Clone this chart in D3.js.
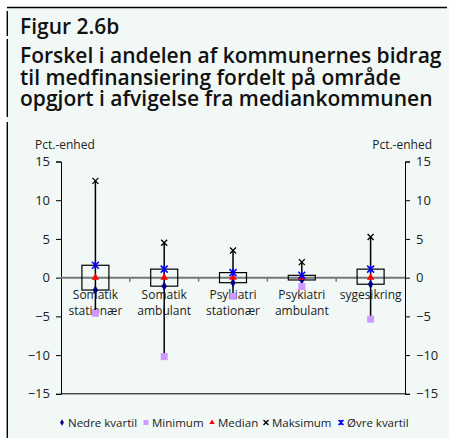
<!DOCTYPE html>
<html>
<head>
<meta charset="utf-8">
<script src="https://cdn.jsdelivr.net/npm/d3@7"></script>
<style>
  body { margin: 0; background: #fff; }
  text { font-family: "Open Sans", "Noto Sans", sans-serif; }
</style>
</head>
<body>
<svg id="chart" width="449" height="438"></svg>
<script>
// data
const categories = [["Somatik", "stationær"], ["Somatik", "ambulant"], ["Psykiatri", "stationær"], ["Psykiatri", "ambulant"], ["sygesikring"]];
const nedreKvartil = [-1.6, -1.1, -0.65, -0.3, -0.85];
const minimum = [-4.6, -10.2, -2.4, -1.15, -5.35];
const median = [0, 0, 0, 0, 0];
const maksimum = [12.5, 4.5, 3.5, 2.0, 5.25];
const oevreKvartil = [1.6, 1.1, 0.65, 0.3, 1.1];
const yTicks = [-15, -10, -5, 0, 5, 10, 15];
const titleLines = ["Forskel i andelen af kommunernes bidrag", "til medfinansiering fordelt på område", "opgjort i afvigelse fra mediankommunen"];
const legendNames = ["Nedre kvartil", "Minimum", "Median", "Maksimum", "Øvre kvartil"];

const svg = d3.select("#chart");

// frame
svg.append("rect").attr("x", 7).attr("y", 7).attr("width", 442).attr("height", 431).attr("fill", "#f1f8f6");
svg.append("line").attr("x1", 7).attr("x2", 447).attr("y1", 7.5).attr("y2", 7.5).attr("stroke", "#000").attr("stroke-width", 1.4);
[[11, 36], [39, 117], [122, 438]].forEach(s => {
  svg.append("line").attr("x1", 7.3).attr("x2", 7.3).attr("y1", s[0]).attr("y2", s[1]).attr("stroke", "#000").attr("stroke-width", 1.4);
});

svg.append("text").attr("x", 20).attr("y", 34).text("Figur 2.6b")
  .attr("font-size", 21).attr("font-weight", 600).attr("fill", "#111");
svg.selectAll(".title").data(titleLines).enter()
  .append("text")
    .attr("x", 20)
    .attr("y", (d, i) => 63 + i * 21.5)
    .text(d => d)
    .attr("font-size", 21).attr("font-weight", 600).attr("fill", "#111");

// scales
const left = 61, right = 405;
const y = d3.scaleLinear().domain([-15, 15]).range([393.8, 161.5]);
const x = d3.scaleBand().domain(d3.range(categories.length)).range([left, right]);
const cx = i => x(i) + x.bandwidth() / 2;

svg.append("text").attr("x", 35).attr("y", 149).text("Pct.-enhed").attr("font-size", 12).attr("fill", "#222");
svg.append("text").attr("x", 432).attr("y", 149).attr("text-anchor", "end").text("Pct.-enhed").attr("font-size", 12).attr("fill", "#222");

const yLeft = svg.append("g").attr("transform", `translate(${left},0)`)
  .call(d3.axisLeft(y).tickValues(yTicks).tickSize(5).tickPadding(6));
const yRight = svg.append("g").attr("transform", `translate(${right},0)`)
  .call(d3.axisRight(y).tickValues(yTicks).tickSize(5).tickPadding(6));
[yLeft, yRight].forEach(g => {
  g.select(".domain").attr("stroke", "#000");
  g.selectAll(".tick line").attr("stroke", "#000");
  g.selectAll("text").attr("font-size", 13).attr("fill", "#222").attr("font-family", "\"Open Sans\", sans-serif");
});

// bottom border at -15
svg.append("line").attr("x1", left).attr("x2", right).attr("y1", y(-15)).attr("y2", y(-15)).attr("stroke", "#000");

// zero line with category ticks
svg.append("line").attr("x1", left).attr("x2", right).attr("y1", y(0)).attr("y2", y(0)).attr("stroke", "#777").attr("stroke-width", 2);
svg.selectAll(".ctick").data(d3.range(1, categories.length)).enter()
  .append("line")
    .attr("x1", d => x(d)).attr("x2", d => x(d))
    .attr("y1", y(0)).attr("y2", y(0) + 4)
    .attr("stroke", "#777").attr("stroke-width", 1.5);

// category labels
categories.forEach((c, i) => {
  c.forEach((t, j) => {
    svg.append("text").attr("x", cx(i)).attr("y", 299 + j * 15.5)
      .attr("text-anchor", "middle").attr("font-size", 12).attr("fill", "#222").text(t);
  });
});

// whiskers
svg.selectAll(".whisker").data(d3.range(categories.length)).enter()
  .append("line")
    .attr("x1", cx).attr("x2", cx)
    .attr("y1", i => y(maksimum[i])).attr("y2", i => y(minimum[i]))
    .attr("stroke", "#000").attr("stroke-width", 1.5);

// boxes
const boxW = 27;
svg.selectAll(".box").data(d3.range(categories.length)).enter()
  .append("rect")
    .attr("x", i => cx(i) - boxW / 2)
    .attr("y", i => y(oevreKvartil[i]))
    .attr("width", boxW)
    .attr("height", i => y(nedreKvartil[i]) - y(oevreKvartil[i]))
    .attr("fill", "none").attr("stroke", "#000").attr("stroke-width", 1.2);

// marker shapes
function marker(g, kind, px, py, s) {
  if (kind === 0) {
    g.append("path").attr("d", d3.symbol(d3.symbolDiamond, s * s * 0.5)()).attr("transform", `translate(${px},${py})`).attr("fill", "#000080");
  } else if (kind === 1) {
    g.append("rect").attr("x", px - s / 2).attr("y", py - s / 2).attr("width", s).attr("height", s).attr("fill", "#cc99ff");
  } else if (kind === 2) {
    g.append("path").attr("d", d3.symbol(d3.symbolTriangle, s * s * 0.5)()).attr("transform", `translate(${px},${py})`).attr("fill", "#ff0000");
  } else if (kind === 3) {
    const h = s / 2;
    g.append("path").attr("d", `M${px - h},${py - h}L${px + h},${py + h}M${px - h},${py + h}L${px + h},${py - h}`).attr("stroke", "#000").attr("stroke-width", 1.3);
  } else {
    const h = s / 2;
    g.append("path").attr("d", `M${px - h},${py - h}L${px + h},${py + h}M${px - h},${py + h}L${px + h},${py - h}M${px},${py - h}L${px},${py + h}`).attr("stroke", "#0000ff").attr("stroke-width", 1.5);
  }
}

const series = [nedreKvartil, minimum, median, maksimum, oevreKvartil];
const marks = svg.append("g");
series.forEach((vals, k) => {
  vals.forEach((v, i) => marker(marks, k, cx(i), y(v), k === 3 ? 6 : 7));
});

// legend
const legendX = [62, 146, 212, 266, 341];
const leg = svg.append("g");
legendNames.forEach((n, k) => {
  marker(leg, k, legendX[k], 422.5, 5);
  leg.append("text").attr("x", legendX[k] + 6).attr("y", 426.5).attr("font-size", 11.5).attr("fill", "#222").text(n);
});
</script>
</body>
</html>
